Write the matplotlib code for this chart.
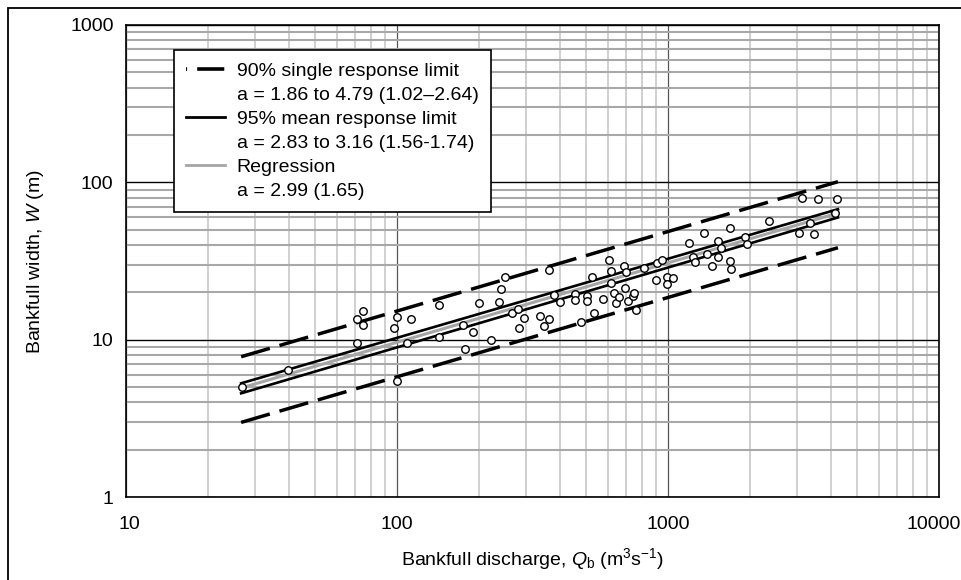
import numpy as np
import matplotlib
matplotlib.use("Agg")
import matplotlib.pyplot as plt
from matplotlib.lines import Line2D
from matplotlib.patches import Rectangle
from matplotlib.ticker import FixedLocator, LogLocator, NullFormatter
from matplotlib.transforms import ScaledTranslation

plt.rcParams['font.family'] = ['Liberation Sans', 'DejaVu Sans']
plt.rcParams['mathtext.fontset'] = 'custom'
plt.rcParams['mathtext.rm'] = 'Liberation Sans'
plt.rcParams['mathtext.it'] = 'Liberation Sans:italic'

# bankfull discharge (m3/s) and width (m)
q_obs = [26.9, 39.5, 71.0, 71.4, 75.1, 75.1, 97.2, 99.7, 100.3, 112.6,
         108.9, 142.5, 143.2, 174.8, 178.2, 190.4, 201.1, 221.7, 238.9, 242.0,
         250.9, 266.1, 278.9, 281.3, 294.9, 338.4, 349.5, 362.9, 362.9, 378.6,
         399.4, 453.9, 453.9, 502.5, 503.8, 477.5, 523.4, 533.3, 577.1, 607.3,
         614.6, 616.2, 633.2, 643.0, 661.3, 687.9, 701.1, 692.1, 714.8, 744.7,
         749.1, 760.1, 817.6, 901.6, 908.5, 954.3, 994.0, 994.0, 1041, 1198,
         1242, 1260, 1358, 1389, 1459, 1533, 1565, 1526, 1693, 1696,
         1703, 1924, 1957, 2363, 3043, 3342, 3467, 3116, 3568, 4197, 4143]
w_obs = [5.00, 6.42, 9.48, 13.63, 15.32, 12.34, 11.87, 13.89, 5.50, 13.63,
         9.50, 16.69, 10.44, 12.36, 8.70, 11.15, 17.05, 9.92, 17.23, 20.90,
         24.95, 14.67, 15.73, 11.90, 13.67, 14.20, 12.27, 13.48, 27.85, 19.14,
         17.41, 19.37, 17.79, 18.87, 17.61, 12.91, 24.95, 14.84, 18.21, 31.95,
         27.24, 23.02, 19.80, 17.02, 18.76, 29.60, 27.00, 21.40, 17.66, 18.87,
         19.80, 15.44, 28.67, 23.95, 30.85, 32.23, 25.13, 22.49, 24.55, 41.28,
         33.33, 31.17, 47.44, 34.93, 29.38, 42.57, 38.24, 33.38, 51.05, 31.53,
         28.21, 44.73, 40.74, 56.79, 47.86, 54.91, 46.82, 79.5, 78.7, 78.0, 64.1]

# end points of the fitted lines
q_line = [26.6, 4240]
w_reg = [4.93, 63.8]
w_mean_hi = [5.28, 67.5]
w_mean_lo = [4.56, 59.8]
w_single_hi = [7.79, 100.9]
w_single_lo = [2.98, 38.4]

legend_labels = ['90% single response limit', 'a = 1.86 to 4.79 (1.02\u20132.64)',
                 '95% mean response limit', 'a = 2.83 to 3.16 (1.56-1.74)',
                 'Regression', 'a = 2.99 (1.65)']

fs = 14

fig = plt.figure(figsize=(9.62, 5.80), dpi=100)
ax = fig.add_axes([0.131, 0.1431, 0.845, 0.8138])

dash = (0, (8.6, 2.9))
ax.plot(q_line, w_single_hi, color='black', lw=2.5, ls=dash, zorder=3)
ax.plot(q_line, w_single_lo, color='black', lw=2.5, ls=dash, zorder=3)
ax.plot(q_line, w_mean_hi, color='black', lw=1.9, zorder=3)
ax.plot(q_line, w_mean_lo, color='black', lw=1.9, zorder=3)
ax.plot(q_line, w_reg, color='#a6a6a6', lw=2.2, zorder=3)
ax.plot(q_obs, w_obs, 'o', ms=5.4, mfc='white', mec='black', mew=1.0, zorder=4)

ax.set_xscale('log')
ax.set_yscale('log')
ax.set_xlim(10, 10000)
ax.set_ylim(1, 1000)

ax.xaxis.set_major_locator(FixedLocator([10, 100, 1000, 10000]))
ax.yaxis.set_major_locator(FixedLocator([1, 10, 100, 1000]))
ax.set_xticklabels(['10', '100', '1000', '10000'])
ax.set_yticklabels(['1', '10', '100', '1000'])
ax.xaxis.set_minor_locator(LogLocator(base=10, subs=np.arange(2, 10)))
ax.yaxis.set_minor_locator(LogLocator(base=10, subs=np.arange(2, 10)))
ax.xaxis.set_minor_formatter(NullFormatter())
ax.yaxis.set_minor_formatter(NullFormatter())
ax.tick_params(which='both', length=0)
ax.tick_params(axis='x', which='major', pad=14, labelsize=fs)
ax.tick_params(axis='y', which='major', pad=9, labelsize=fs)

# nudge the end labels like the original
xl = ax.get_xticklabels()
xl[0].set_transform(xl[0].get_transform() + ScaledTranslation(0.03, 0, fig.dpi_scale_trans))
xl[-1].set_transform(xl[-1].get_transform() + ScaledTranslation(-0.055, 0, fig.dpi_scale_trans))

ax.grid(True, axis='x', which='major', color='#555555', lw=0.9, zorder=1)
ax.grid(True, axis='x', which='minor', color='#c8c8c8', lw=1.2, zorder=1)
ax.grid(True, axis='y', which='major', color='black', lw=1.0, zorder=1)
ax.grid(True, axis='y', which='minor', color='#a8a8a8', lw=1.5, zorder=1)
ax.set_axisbelow(True)
for s in ax.spines.values():
    s.set_color('black')
    s.set_linewidth(1.2)

ax.set_xlabel(r'Bankfull discharge, $\mathit{Q}_\mathrm{b}$ (m$^3$s$^{-1}$)', fontsize=fs, labelpad=9)
ax.set_ylabel(r'Bankfull width, $\mathit{W}$ (m)', fontsize=fs, labelpad=17)

blank = Line2D([], [], color='none')
handles = [Line2D([], [], color='black', lw=2.6, ls=(7.2, (7.5, 2.8))), blank,
           Line2D([], [], color='black', lw=2.0), blank,
           Line2D([], [], color='#a6a6a6', lw=2.0), blank]
leg = ax.legend(handles, legend_labels, loc='upper left', bbox_to_anchor=(0.059, 0.947),
                borderaxespad=0, fontsize=fs, handlelength=2.0, handletextpad=0.6,
                labelspacing=0.33, borderpad=0.62, fancybox=False, framealpha=1,
                edgecolor='black')
leg.get_frame().set_linewidth(1.2)

# frame round the whole figure
fig.patches.append(Rectangle((0.0083, -0.1), 1.2, 1.086, transform=fig.transFigure,
                             fill=False, edgecolor='black', lw=1.3))

fig.savefig('out.png', dpi=100)
